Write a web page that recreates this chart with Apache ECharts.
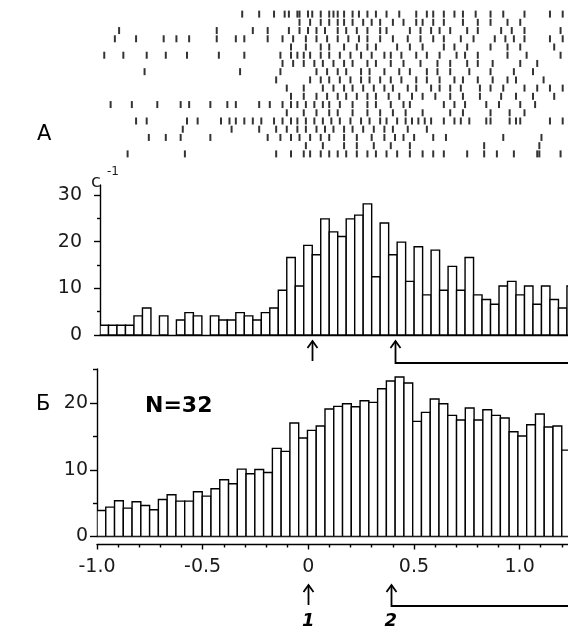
<!DOCTYPE html>
<html>
<head>
<meta charset="utf-8">
<script src="https://cdn.jsdelivr.net/npm/echarts@6/dist/echarts.min.js"></script>
<style>
html,body{margin:0;padding:0;background:#fff;}
#chart{width:568px;height:633px;}
</style>
</head>
<body>
<div id="chart"></div>
<script>
// ---------- DATA ----------
// Raster: spike times (s) for each trial row, top to bottom
const raster01 = [-0.33,-0.25,-0.18,-0.13,-0.11,-0.07,-0.06,-0.02,0.00,0.04,0.08,0.10,0.12,0.15,0.19,0.22,0.26,0.30,0.35,0.41,0.49,0.54,0.57,0.62,0.67,0.71,0.77,0.84,0.90,1.00,1.12,1.18];
const raster02 = [-0.06,-0.01,0.04,0.08,0.12,0.15,0.19,0.24,0.28,0.32,0.38,0.43,0.49,0.52,0.57,0.62,0.71,0.78,0.84,0.92,0.98];
const raster03 = [-0.91,-0.45,-0.28,-0.21,-0.11,-0.06,-0.02,0.02,0.06,0.12,0.16,0.21,0.26,0.32,0.35,0.46,0.51,0.56,0.60,0.65,0.73,0.78,0.89,0.94,1.00,1.17];
const raster04 = [-0.93,-0.83,-0.70,-0.64,-0.58,-0.45,-0.36,-0.32,-0.21,-0.14,-0.09,-0.03,0.02,0.07,0.12,0.17,0.22,0.26,0.32,0.38,0.45,0.51,0.57,0.62,0.70,0.76,0.86,0.91,0.95,1.00,1.12,1.18];
const raster05 = [-0.10,-0.03,0.04,0.08,0.15,0.21,0.26,0.30,0.40,0.46,0.52,0.62,0.67,0.73,0.84,0.92,0.98,1.14];
const raster06 = [-0.98,-0.89,-0.78,-0.69,-0.59,-0.44,-0.32,-0.15,-0.10,-0.07,-0.04,-0.01,0.04,0.08,0.13,0.18,0.23,0.28,0.34,0.37,0.42,0.49,0.54,0.60,0.68,0.72,0.78,0.92,1.01,1.17];
const raster07 = [-0.14,-0.09,-0.04,0.01,0.05,0.10,0.15,0.19,0.26,0.30,0.37,0.43,0.51,0.59,0.65,0.73,0.78,0.85,0.98,1.06];
const raster08 = [-0.79,-0.34,-0.15,0.02,0.07,0.12,0.16,0.23,0.27,0.34,0.41,0.46,0.54,0.59,0.65,0.74,0.84,0.95,1.04];
const raster09 = [-0.17,-0.01,0.04,0.08,0.13,0.18,0.23,0.27,0.32,0.37,0.42,0.49,0.54,0.60,0.67,0.71,0.78,0.85,0.92,0.96,1.09];
const raster10 = [-0.12,-0.04,0.05,0.10,0.15,0.19,0.24,0.29,0.34,0.38,0.45,0.49,0.56,0.60,0.65,0.70,0.79,0.84,0.90,1.00,1.06,1.12,1.18];
const raster11 = [-0.10,-0.04,0.02,0.07,0.12,0.16,0.21,0.26,0.30,0.36,0.41,0.47,0.52,0.58,0.65,0.71,0.79,0.89,0.96,1.04,1.14];
const raster12 = [-0.95,-0.85,-0.73,-0.62,-0.58,-0.48,-0.40,-0.36,-0.25,-0.20,-0.14,-0.10,-0.07,-0.03,0.01,0.05,0.08,0.13,0.19,0.26,0.30,0.37,0.43,0.46,0.62,0.67,0.72,0.82,0.88,0.98,1.05];
const raster13 = [-0.12,-0.04,0.02,0.08,0.12,0.19,0.26,0.32,0.38,0.44,0.52,0.65,0.71,0.84,0.93,1.00];
const raster14 = [-0.83,-0.78,-0.59,-0.54,-0.43,-0.39,-0.36,-0.32,-0.28,-0.24,-0.18,-0.14,-0.10,-0.07,-0.03,0.01,0.05,0.09,0.13,0.18,0.23,0.27,0.32,0.35,0.40,0.44,0.47,0.50,0.53,0.56,0.62,0.67,0.70,0.74,0.82,0.84,0.93,0.96,0.98,1.12,1.18];
const raster15 = [-0.61,-0.38,-0.25,-0.17,-0.12,-0.07,-0.03,0.02,0.06,0.10,0.15,0.19,0.24,0.29,0.34,0.38,0.45,0.54];
const raster16 = [-0.77,-0.69,-0.62,-0.48,-0.21,-0.15,-0.10,-0.06,-0.01,0.04,0.08,0.15,0.21,0.28,0.34,0.39,0.43,0.48,0.57,0.63,0.90,1.08];
const raster17 = [-0.03,0.05,0.15,0.21,0.29,0.37,0.46,0.81,1.07];
const raster18 = [-0.87,-0.60,-0.17,-0.10,-0.04,-0.01,0.04,0.08,0.12,0.16,0.21,0.26,0.30,0.35,0.40,0.46,0.52,0.57,0.62,0.73,0.81,0.87,0.95,1.06,1.07,1.17];
const rasterRows = [raster01,raster02,raster03,raster04,raster05,raster06,raster07,raster08,raster09,raster10,raster11,raster12,raster13,raster14,raster15,raster16,raster17,raster18];

// Histogram A (s^-1), bins starting at -1.0
const histAStart = -1.0;
const histABin = 0.04;
const histAValues = [2.1,2.1,2.1,2.1,4.1,5.8,0,4.1,0,3.2,4.8,4.1,0,4.1,3.2,3.2,4.8,4.1,3.2,4.8,5.8,9.6,16.6,10.5,19.2,17.2,24.9,22.1,21.1,24.9,25.7,28.1,12.5,24.0,17.2,19.9,11.5,18.9,8.6,18.2,9.6,14.7,9.6,16.6,8.6,7.6,6.6,10.5,11.5,8.6,10.5,6.6,10.5,7.6,5.8,10.5];

// Histogram Б (N=32), bins starting at -1.0
const histBStart = -1.0;
const histBBin = 0.0415;
const histBValues = [3.9,4.4,5.35,4.25,5.2,4.65,4.0,5.55,6.25,5.3,5.3,6.7,6.05,7.15,8.5,7.9,10.1,9.4,10.05,9.6,13.2,12.75,17.0,14.75,15.9,16.55,19.1,19.5,19.9,19.45,20.35,20.1,22.15,23.3,23.9,23.0,17.25,18.6,20.6,19.9,18.15,17.45,19.25,17.45,19.0,18.15,17.75,15.7,15.05,16.75,18.35,16.4,16.55,12.95];

// Axis ticks / labels
const xTickValues = [-1, -0.5, 0, 0.5, 1];
const xTickLabels = ['-1.0', '-0.5', '0', '0.5', '1.0'];
const xMinorTicks = [-0.9,-0.8,-0.7,-0.6,-0.4,-0.3,-0.2,-0.1,0.1,0.2,0.3,0.4,0.6,0.7,0.8,0.9,1.1,1.2];
const yTicksA = [0, 10, 20, 30];
const yMinorA = [5, 15, 25];
const yTicksB = [0, 10, 20];
const yMinorB = [5, 15, 25];
const markerTimes = [0, 0.39];
const markerLabels = ['1', '2'];
const panelLabels = ['А', 'Б'];
const unitLabel = 'с';
const unitExp = '-1';
const nLabel = 'N=32';

// ---------- BUILD ----------
const FONT = 'DejaVu Sans';
const rasterData = [];
rasterRows.forEach((row, i) => row.forEach(t => rasterData.push([t, i + 1])));
const histAData = histAValues.map((v, i) => [histAStart + i * histABin, histAStart + (i + 1) * histABin, v]);
const histBData = histBValues.map((v, i) => [histBStart + i * histBBin, histBStart + (i + 1) * histBBin, v]);

function renderBar(params, api) {
  const v = api.value(2);
  if (!v) return null;
  const p0 = api.coord([api.value(0), v]);
  const p1 = api.coord([api.value(1), 0]);
  return {
    type: 'rect',
    shape: { x: p0[0], y: p0[1], width: p1[0] - p0[0], height: p1[1] - p0[1] },
    style: { fill: '#fff', stroke: '#000', lineWidth: 1.4 }
  };
}

const xMaxA = 1.205, xMaxB = 1.229;
const lineStyle = { color: '#000', width: 1.4 };
const labelStyle = { color: '#1a1a1a', fontFamily: FONT, fontSize: 19 };
const noLine = { show: false, onZero: false };
function shownLine() { return { show: true, onZero: false, lineStyle }; }

const chart = echarts.init(document.getElementById('chart'), null, { renderer: 'canvas' });
chart.setOption({
  animation: false,
  backgroundColor: '#fff',
  grid: [
    { left: 100, right: 0, top: 10, height: 148 },
    { left: 100, right: 0, top: 185, height: 150 },
    { left: 97, right: 0, top: 369, height: 167.5 }
  ],
  xAxis: [
    { gridIndex: 0, type: 'value', min: -1, max: xMaxA, show: false },
    { gridIndex: 1, type: 'value', min: -1, max: xMaxA, position: 'bottom',
      axisLine: shownLine(), axisTick: { show: false }, axisLabel: { show: false }, splitLine: { show: false } },
    { gridIndex: 2, type: 'value', min: -1, max: xMaxB, position: 'bottom',
      axisLine: shownLine(), axisTick: { show: false }, axisLabel: { show: false }, splitLine: { show: false } },
    { gridIndex: 2, type: 'value', min: -1, max: xMaxB, position: 'bottom', offset: 8,
      axisLine: shownLine(),
      axisTick: { show: true, length: 5, customValues: xTickValues, lineStyle },
      axisLabel: { show: true, customValues: xTickValues, margin: 13, ...labelStyle,
        formatter: v => { const k = xTickValues.findIndex(x => Math.abs(x - v) < 1e-9); return k >= 0 ? xTickLabels[k] : ''; } },
      splitLine: { show: false } },
    { gridIndex: 2, type: 'value', min: -1, max: xMaxB, position: 'bottom', offset: 8,
      axisLine: noLine,
      axisTick: { show: true, length: 3, customValues: xMinorTicks, lineStyle },
      axisLabel: { show: false }, splitLine: { show: false } }
  ],
  yAxis: [
    { gridIndex: 0, type: 'value', min: 0.5, max: rasterRows.length + 0.5, inverse: true, show: false },
    { gridIndex: 1, type: 'value', min: 0, max: 32.15, position: 'left',
      axisLine: shownLine(),
      axisTick: { show: true, length: 6, customValues: yTicksA, lineStyle },
      axisLabel: { show: true, customValues: yTicksA, margin: 18, ...labelStyle },
      splitLine: { show: false } },
    { gridIndex: 1, type: 'value', min: 0, max: 32.15, position: 'left',
      axisLine: noLine,
      axisTick: { show: true, length: 3, customValues: yMinorA, lineStyle },
      axisLabel: { show: false }, splitLine: { show: false } },
    { gridIndex: 2, type: 'value', min: 0, max: 25.1, position: 'left',
      axisLine: shownLine(),
      axisTick: { show: true, length: 7, customValues: yTicksB, lineStyle },
      axisLabel: { show: true, customValues: yTicksB, margin: 9, ...labelStyle },
      splitLine: { show: false } },
    { gridIndex: 2, type: 'value', min: 0, max: 25.1, position: 'left',
      axisLine: noLine,
      axisTick: { show: true, length: 4, customValues: yMinorB, lineStyle },
      axisLabel: { show: false }, splitLine: { show: false } }
  ],
  series: [
    { type: 'scatter', xAxisIndex: 0, yAxisIndex: 0, data: rasterData,
      symbol: 'rect', symbolSize: [2, 7], itemStyle: { color: '#000' }, silent: true },
    { type: 'custom', xAxisIndex: 1, yAxisIndex: 1, data: histAData, renderItem: renderBar,
      encode: { x: [0, 1], y: 2 }, clip: true, silent: true },
    { type: 'custom', xAxisIndex: 2, yAxisIndex: 3, data: histBData, renderItem: renderBar,
      encode: { x: [0, 1], y: 2 }, clip: true, silent: true }
  ]
});

// annotations: arrows positioned through the axes
const g = [];
const arrowStyle = { stroke: '#000', lineWidth: 1.8, fill: null };
function addArrows(axisIndex, tipY, bottomY, bracketY) {
  markerTimes.forEach((t, i) => {
    const x = Math.round(chart.convertToPixel({ xAxisIndex: axisIndex }, t)) + 0.5;
    g.push({ type: 'polyline', shape: { points: [[x - 5, tipY + 7], [x, tipY], [x + 5, tipY + 7]] }, style: arrowStyle, silent: true });
    if (i === 0) {
      g.push({ type: 'polyline', shape: { points: [[x, tipY], [x, bottomY]] }, style: arrowStyle, silent: true });
    } else {
      g.push({ type: 'polyline', shape: { points: [[x, tipY], [x, bracketY], [570, bracketY]] }, style: arrowStyle, silent: true });
    }
  });
}
addArrows(1, 341, 361, 363);
addArrows(3, 585, 605, 606);
markerTimes.forEach((t, i) => {
  const x = chart.convertToPixel({ xAxisIndex: 3 }, t);
  g.push({ type: 'text', x: x, y: 621, silent: true,
    style: { text: markerLabels[i], fill: '#000', font: 'italic bold 18px "DejaVu Sans"', align: 'center', verticalAlign: 'middle' } });
});
g.push({ type: 'text', x: 37, y: 135, silent: true,
  style: { text: panelLabels[0], fill: '#000', font: '21px "DejaVu Sans"', align: 'left', verticalAlign: 'middle' } });
g.push({ type: 'text', x: 36, y: 405, silent: true,
  style: { text: panelLabels[1], fill: '#000', font: '21px "DejaVu Sans"', align: 'left', verticalAlign: 'middle' } });
g.push({ type: 'text', x: 91, y: 182, silent: true,
  style: { text: unitLabel, fill: '#1a1a1a', font: '18px "DejaVu Sans"', align: 'left', verticalAlign: 'middle' } });
g.push({ type: 'text', x: 107, y: 172, silent: true,
  style: { text: unitExp, fill: '#1a1a1a', font: '12px "DejaVu Sans"', align: 'left', verticalAlign: 'middle' } });
g.push({ type: 'text', x: 145, y: 406, silent: true,
  style: { text: nLabel, fill: '#000', font: 'bold 22px "DejaVu Sans"', align: 'left', verticalAlign: 'middle' } });
chart.setOption({ graphic: g });
</script>
</body>
</html>
